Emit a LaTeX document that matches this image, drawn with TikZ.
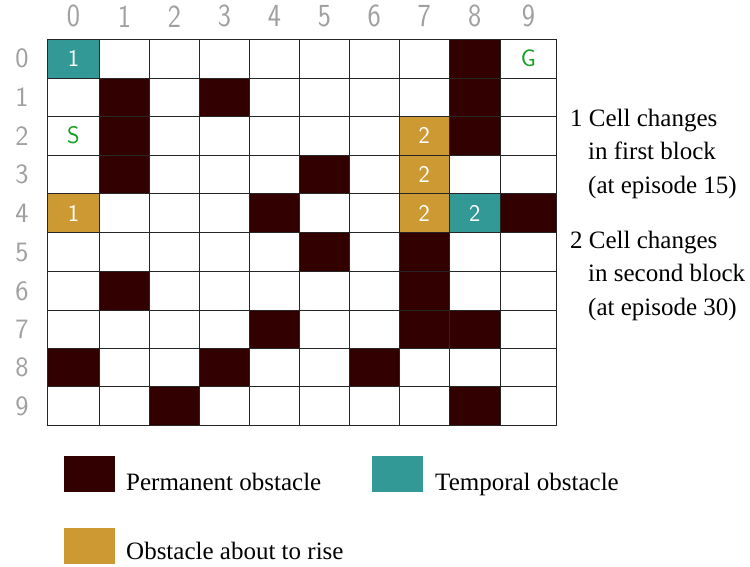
\documentclass[tikz,border=0pt]{standalone}
\usepackage{fontspec}
\setmainfont{Liberation Serif}
\definecolor{perm}{HTML}{330000}
\definecolor{temp}{HTML}{339996}
\definecolor{rise}{HTML}{CC9933}
\definecolor{goal}{HTML}{11A022}
\definecolor{lab}{HTML}{A0A0A0}
\tikzset{
 axislabel/.style={text=lab, font=\sffamily\fontsize{28}{28}\selectfont, inner sep=0pt},
 celltext/.style={font=\sffamily\fontsize{24}{24}\selectfont, inner sep=0pt},
 note/.style={font=\fontsize{25}{25}\selectfont, inner sep=0pt, anchor=base west},
 legbox/.style={draw=none, inner sep=0pt, minimum width=51pt, minimum height=36pt, anchor=north west},
 gridline/.style={line width=0.9pt, draw=black!85, line cap=rect},
}
\begin{document}
\begin{tikzpicture}[x=1pt,y=-1pt]
\useasboundingbox (0,0) rectangle (750,566);
\foreach \v [count=\i from 0] in {47.5,99.5,149.5,199.5,249.5,299.5,349.5,399,449.5,500,556.7}
  \coordinate (X\i) at (\v,0);
\foreach \v [count=\i from 0] in {39.3,78,116.3,155,193.3,232.7,271.7,310,348.3,386.7,425}
  \coordinate (Y\i) at (0,\v);
% cell fills
\foreach \c/\r/\col in {0/0/temp, 8/0/perm,
  1/1/perm, 3/1/perm, 8/1/perm,
  1/2/perm, 7/2/rise, 8/2/perm,
  1/3/perm, 5/3/perm, 7/3/rise,
  0/4/rise, 4/4/perm, 7/4/rise, 8/4/temp, 9/4/perm,
  5/5/perm, 7/5/perm,
  1/6/perm, 7/6/perm,
  4/7/perm, 7/7/perm, 8/7/perm,
  0/8/perm, 3/8/perm, 6/8/perm,
  2/9/perm, 8/9/perm} {
  \pgfmathtruncatemacro\cn{\c+1}
  \pgfmathtruncatemacro\rn{\r+1}
  \fill[\col] (X\c |- Y\r) rectangle (X\cn |- Y\rn);
}
% grid
\foreach \i in {0,...,10} {
  \draw[gridline] (X\i |- Y0) -- (X\i |- Y10);
  \draw[gridline] (X0 |- Y\i) -- (X10 |- Y\i);
}
% axis labels
\foreach \x [count=\i from 0] in {73.5,124.5,174.5,224.5,274.5,324.5,374.25,424.25,474.75,528.35}
  \node[axislabel] (top\i) at (\x,16.3) {\scalebox{1}[1.15]{\i}};
\foreach \y [count=\i from 0] in {58.65,97.15,135.65,174.15,213,252.2,290.85,329.15,367.5,405.85}
  \node[axislabel] (left\i) at (22,\y) {\i};
% cell texts
\node[celltext,text=white] (t00) at (73.5,58.65) {1};
\node[celltext,text=goal] (goal) at (528.35,58.65) {G};
\node[celltext,text=goal] (start) at (73.5,135.65) {S};
\node[celltext,text=white] (t40) at (73.5,213) {1};
\node[celltext,text=white] (t27) at (424.25,135.65) {2};
\node[celltext,text=white] (t37) at (424.25,174.15) {2};
\node[celltext,text=white] (t47) at (424.25,213) {2};
\node[celltext,text=white] (t48) at (474.75,213) {2};
% notes
\node[note] (n1a) at (570,126) {1 Cell changes};
\node[note] (n1b) at (588,159.5) {in first block};
\node[note] (n1c) at (588,193) {(at episode 15)};
\node[note] (n2a) at (570,248) {2 Cell changes};
\node[note] (n2b) at (588,281.5) {in second block};
\node[note] (n2c) at (588,315) {(at episode 30)};
% legend
\node[legbox, fill=perm] (legperm) at (63.3,456) {};
\node[note] (legpermtxt) at (126,490) {Permanent obstacle};
\node[legbox, fill=temp] (legtemp) at (371.7,456) {};
\node[note] (legtemptxt) at (435,490) {Temporal obstacle};
\node[legbox, fill=rise] (legrise) at (63.3,527.5) {};
\node[note] (legrisetxt) at (126,559) {Obstacle about to rise};
\end{tikzpicture}
\end{document}
